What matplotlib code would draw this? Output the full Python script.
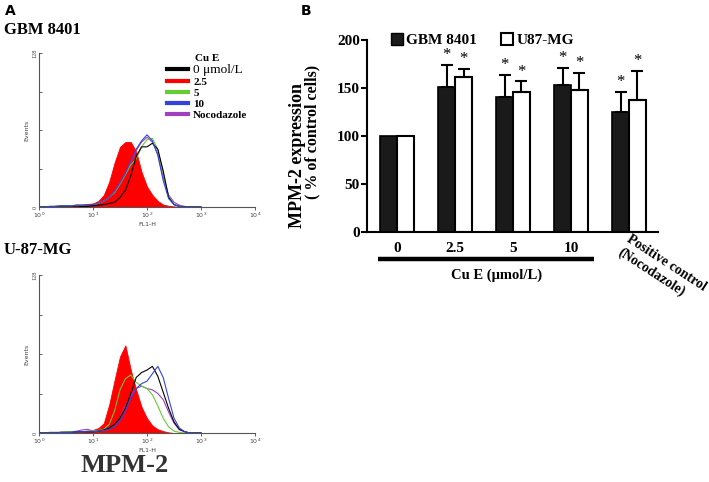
import numpy as np
import matplotlib.pyplot as plt
from matplotlib.patches import Patch
import matplotlib.transforms as mtransforms

plt.rcParams['font.family'] = ['Liberation Serif', 'DejaVu Serif']

# ---- panel B: MPM-2 expression (% of control) ----
groups = ['0', '2.5', '5', '10']
gbm_mean = [100, 151, 141, 153, 125]
gbm_err = [0, 23, 23, 18, 21]
u87_mean = [100, 161, 146, 148, 138]
u87_err = [0, 9, 11, 18, 30]
gbm_sig = [False, True, True, True, True]
u87_sig = [False, True, True, True, True]

# ---- panel A: flow cytometry histograms (log10 FL1-H vs events) ----
log_fl1 = [0.0, 0.1, 0.2, 0.3, 0.4, 0.5, 0.6, 0.7, 0.8, 0.9, 1.0,
           1.1, 1.2, 1.3, 1.4, 1.5, 1.6, 1.7, 1.8, 1.9, 2.0,
           2.1, 2.2, 2.3, 2.4, 2.5, 2.6, 2.7, 2.8, 2.9, 3.0]

gbm_hist = {
    '0 \u03bcmol/L': [0, 0, 0, 0, 0, 0, 0, 0, 0.5, 0.5, 1, 1.5, 2, 3, 4, 8, 14, 26,
                      42, 50, 50, 53, 48, 30, 8, 2, 0.5, 0, 0, 0, 0],
    '2.5': [0, 0, 0.5, 1, 1, 1.5, 1.5, 2, 2, 2.5, 3, 5, 10, 21, 37, 50, 54, 54,
            46, 29, 17, 10, 5, 2, 1, 0.5, 0, 0, 0, 0, 0],
    '5': [0, 0, 0.5, 0.5, 1, 1, 1, 1.5, 1.5, 2, 2, 3, 5, 8, 12, 19, 27, 35,
          40, 50, 56, 57, 48, 28, 9, 2, 0.5, 0, 0, 0, 0],
    '10': [0, 0, 0.5, 0.5, 1, 1, 1, 1.5, 1.5, 2, 2, 3, 5, 8, 13, 20, 28, 38,
           48, 55, 60, 55, 43, 22, 7, 2, 0.5, 0, 0, 0, 0],
    'Nocodazole': [0, 0, 0.5, 0.5, 1, 1, 1, 1.5, 1.5, 2, 2, 3, 5, 8, 13, 20, 28, 37,
                   47, 54, 58, 54, 44, 25, 10, 4, 1.5, 0.5, 0, 0, 0],
}
u87_hist = {
    '0 \u03bcmol/L': [0, 0, 0, 0, 0.5, 0.5, 0.5, 1, 1, 1, 1, 1.5, 2.5, 4, 7, 12, 20, 32,
                      45, 49, 51, 54, 46, 33, 20, 9, 3, 1, 0, 0, 0],
    '2.5': [0, 0, 0.5, 0.5, 1, 1, 1, 1.5, 1.5, 2, 2.5, 4, 8, 23, 43, 62, 71, 51,
            35, 21, 12, 6, 3, 1.5, 0.5, 0, 0, 0, 0, 0, 0],
    '5': [0, 0, 0.5, 0.5, 0.5, 1, 1, 1, 1, 1.5, 1.5, 2, 3, 7, 18, 35, 44, 47,
          41, 38, 36, 31, 22, 12, 5, 1.5, 0.5, 0, 0, 0, 0],
    '10': [0, 0, 0, 0, 0.5, 0.5, 0.5, 1, 1, 1, 1, 1.5, 2, 3, 5, 10, 18, 28,
           36, 40, 42, 48, 54, 45, 28, 12, 4, 1, 0, 0, 0],
    'Nocodazole': [0, 0, 0.5, 0.5, 0.5, 0.5, 1, 1.5, 2.5, 3, 1.5, 2, 3, 4, 7, 12, 22, 30,
                   36, 38, 36, 35, 32, 27, 17, 8, 2.5, 1, 0, 0, 0],
}
hist_labels = ['0 \u03bcmol/L', '2.5', '5', '10', 'Nocodazole']
hist_colors = {'0 \u03bcmol/L': 'black', '2.5': '#ff0000', '5': '#66cc33',
               '10': '#3344dd', 'Nocodazole': '#a040c0'}
draw_order = ['Nocodazole', '5', '0 \u03bcmol/L', '10']

fig = plt.figure(figsize=(7.09, 4.82), dpi=100)
W, H = 709, 482


def fig_axes(x0, y0, x1, y1):
    # pixel box (left, top, right, bottom) -> figure axes
    return fig.add_axes([x0 / W, 1 - y1 / H, (x1 - x0) / W, (y1 - y0) / H])


def draw_hist(ax, data):
    x = 10 ** np.array(log_fl1)
    ax.fill_between(x, data['2.5'], color=hist_colors['2.5'], lw=0.6, zorder=1)
    for key in draw_order:
        ax.plot(x, data[key], color=hist_colors[key], lw=0.8, zorder=2)
    ax.set_xscale('log')
    ax.set_xlim(1, 1e4)
    ax.set_ylim(0, 128)
    for s in ['top', 'right']:
        ax.spines[s].set_visible(False)
    for s in ['left', 'bottom']:
        ax.spines[s].set_color('#555555')
        ax.spines[s].set_linewidth(0.8)
    ax.set_xticks([1, 10, 100, 1000, 10000])
    ax.set_xticklabels(['$10^0$', '$10^1$', '$10^2$', '$10^3$', '$10^4$'])
    ax.minorticks_off()
    ax.set_yticks([0, 32, 64, 96, 128])
    ax.set_yticklabels(['0', '', '', '', '128'], rotation=90, va='center')
    ax.tick_params(axis='both', labelsize=4.5, length=2, width=0.6,
                   colors='#444444', pad=1)
    ax.tick_params(axis='y', direction='in')
    ax.set_xlabel('FL1-H', fontsize=4.5, family='DejaVu Sans', labelpad=1,
                  color='#444444')
    ax.set_ylabel('Events', fontsize=4.5, family='DejaVu Sans', labelpad=2,
                  color='#444444')


ax_top = fig_axes(39, 53, 255, 207)
draw_hist(ax_top, gbm_hist)
handles = [plt.Line2D([], [], color=hist_colors[k], lw=3) for k in hist_labels]
leg = ax_top.legend(handles, hist_labels, title='Cu E', loc='upper left',
                    bbox_to_anchor=(0.57, 1.025), frameon=False, fontsize=8,
                    title_fontsize=8, handlelength=1.9, handletextpad=0.5,
                    labelspacing=0.12, borderaxespad=0)
texts = leg.get_texts()
texts[0].set_fontsize(9.5)
for t in texts[1:]:
    t.set_fontweight('bold')
leg.get_title().set_fontweight('bold')

ax_bot = fig_axes(39, 275, 255, 433)
draw_hist(ax_bot, u87_hist)

fig.text(5 / W, 1 - 11 / H, 'A', family='DejaVu Sans', weight='bold',
         fontsize=10, va='center')
fig.text(301 / W, 1 - 11 / H, 'B', family='DejaVu Sans', weight='bold',
         fontsize=10, va='center')
fig.text(4 / W, 1 - 30 / H, 'GBM 8401', weight='bold', fontsize=12, va='center')
fig.text(4 / W, 1 - 250 / H, 'U-87-MG', weight='bold', fontsize=12, va='center')
fig.text(125 / W, 1 - 465 / H, 'MPM-2', weight='bold', fontsize=19,
         ha='center', va='center', color='#333333')

# ---- panel B bars ----
ax = fig_axes(367, 40, 658, 232)
pos = np.arange(len(gbm_mean))
bw = 0.29
ax.bar(pos - bw / 2, gbm_mean, bw, color='#1a1a1a', edgecolor='black',
       lw=1.2, zorder=2)
ax.bar(pos + bw / 2, u87_mean, bw, color='white', edgecolor='black',
       lw=1.5, zorder=2)
for offs, mean, err, sig in [(-bw / 2, gbm_mean, gbm_err, gbm_sig),
                             (bw / 2, u87_mean, u87_err, u87_sig)]:
    for i in range(len(mean)):
        if err[i] > 0:
            ax.errorbar(pos[i] + offs, mean[i], yerr=[[0], [err[i]]], fmt='none',
                        ecolor='black', elinewidth=1.5, capsize=4, capthick=1.5,
                        zorder=3)
        if sig[i]:
            ax.text(pos[i] + offs, mean[i] + err[i] + 10, '*', ha='center',
                    va='center', fontsize=12)

ax.set_xlim(-0.52, 4.5)
ax.set_ylim(0, 200)
for s in ['top', 'right']:
    ax.spines[s].set_visible(False)
for s in ['left', 'bottom']:
    ax.spines[s].set_linewidth(1.5)
ax.set_yticks([0, 50, 100, 150, 200])
ax.set_xticks(range(len(groups)))
ax.set_xticklabels(groups)
ax.tick_params(axis='y', length=4, width=1.5, pad=1, labelsize=11)
ax.tick_params(axis='x', length=0, pad=7, labelsize=11)
for lab in ax.get_xticklabels() + ax.get_yticklabels():
    lab.set_fontweight('bold')

ax.legend([Patch(facecolor='#1a1a1a', edgecolor='black'),
           Patch(facecolor='white', edgecolor='black', lw=1.5)],
          ['GBM 8401', 'U87-MG'], ncol=2, loc='upper left',
          bbox_to_anchor=(0.06, 1.068), frameon=False, handlelength=0.8,
          handleheight=0.8, handletextpad=0.2, columnspacing=1.6,
          prop={'weight': 'bold', 'size': 11}, borderaxespad=0)

fig.text(297 / W, 1 - 155 / H, 'MPM-2 expression', rotation=90, weight='bold',
         fontsize=13, ha='center', va='center')
fig.text(312 / W, 1 - 132 / H, '( % of control cells)', rotation=90,
         weight='bold', fontsize=11.5, ha='center', va='center')

trans = mtransforms.blended_transform_factory(ax.transData, ax.transAxes)
ax.plot([-0.33, 3.4], [-0.14, -0.14], transform=trans, color='black', lw=3.2,
        clip_on=False, solid_capstyle='butt')
ax.text(1.72, -0.225, 'Cu E (\u03bcmol/L)', transform=trans, ha='center',
        va='center', fontsize=10.5, weight='bold')
fig.text(662 / W, 1 - 270 / H, 'Positive control\n(Nocodazole)', rotation=-33,
         rotation_mode='anchor', ha='center', va='center', weight='bold',
         fontsize=10, multialignment='left')

fig.savefig('out.png', dpi=100)
